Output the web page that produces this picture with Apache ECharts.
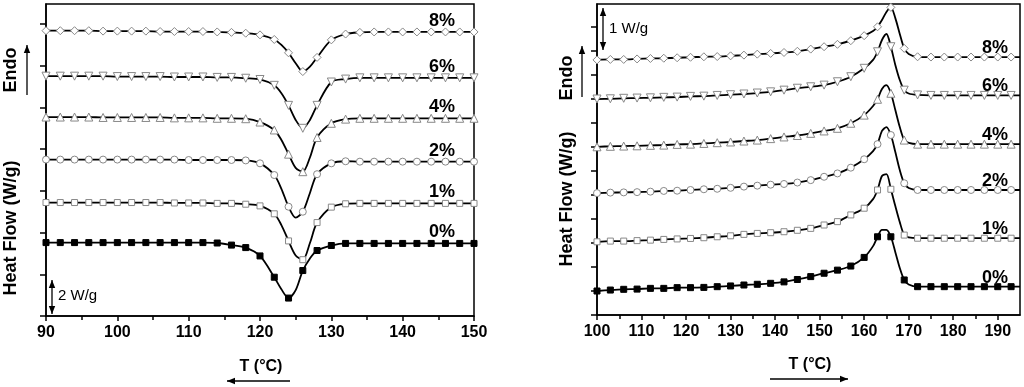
<!DOCTYPE html>
<html><head><meta charset="utf-8">
<script src="https://cdn.jsdelivr.net/npm/echarts@6/dist/echarts.min.js"></script>
<style>html,body{margin:0;padding:0;background:#fff}#c{width:1024px;height:387px}</style>
</head><body><div id="c"></div>
<script>
// ---------- DATA ----------
const seriesNames = ['0%', '1%', '2%', '4%', '6%', '8%'];

// Left panel (cooling), temperature in °C, heat flow in tick units
const leftT = [90,92,94,96,98,100,102,104,106,108,110,112,114,116,118,120,122,123,124,125,126,127,128,130,132,134,136,138,140,142,144,146,148,150];
const left0 = [1.76,1.76,1.76,1.76,1.76,1.76,1.76,1.76,1.76,1.76,1.76,1.76,1.75,1.70,1.64,1.44,0.93,0.64,0.43,0.62,1.09,1.38,1.57,1.69,1.74,1.74,1.74,1.74,1.74,1.74,1.74,1.74,1.74,1.74];
const left1 = [2.72,2.72,2.72,2.72,2.72,2.72,2.72,2.72,2.72,2.71,2.71,2.71,2.70,2.70,2.68,2.64,2.45,2.18,1.80,1.45,1.35,1.75,2.24,2.61,2.69,2.70,2.70,2.70,2.70,2.70,2.70,2.70,2.70,2.70];
const left2 = [3.75,3.75,3.75,3.75,3.75,3.75,3.75,3.75,3.75,3.75,3.74,3.74,3.74,3.74,3.73,3.66,3.38,3.05,2.62,2.36,2.50,2.95,3.40,3.66,3.71,3.70,3.70,3.70,3.70,3.70,3.70,3.70,3.70,3.70];
const left4 = [4.77,4.77,4.77,4.77,4.76,4.76,4.76,4.76,4.76,4.75,4.75,4.75,4.74,4.74,4.73,4.65,4.46,4.22,3.88,3.55,3.46,3.80,4.28,4.62,4.72,4.74,4.74,4.74,4.74,4.74,4.74,4.74,4.74,4.74];
const left6 = [5.75,5.75,5.75,5.75,5.75,5.74,5.74,5.74,5.74,5.73,5.73,5.73,5.72,5.72,5.70,5.67,5.53,5.34,5.05,4.70,4.50,4.70,5.05,5.61,5.68,5.71,5.71,5.71,5.71,5.71,5.71,5.71,5.71,5.71];
const left8 = [6.84,6.84,6.84,6.84,6.83,6.83,6.83,6.83,6.82,6.82,6.82,6.82,6.81,6.80,6.78,6.74,6.63,6.50,6.31,6.06,5.86,5.98,6.20,6.62,6.76,6.80,6.81,6.81,6.81,6.81,6.81,6.81,6.81,6.81];

// Right panel (heating)
const rightT = [100,103,106,109,112,115,118,121,124,127,130,133,136,139,142,145,148,151,154,157,160,162,163,164,165,166,167,168,169,170,172,175,178,181,184,187,190,193,195];
const right0 = [1.00,1.04,1.07,1.08,1.11,1.11,1.14,1.14,1.15,1.18,1.21,1.25,1.28,1.32,1.38,1.48,1.60,1.74,1.87,2.04,2.40,2.87,3.26,3.55,3.55,3.26,2.62,1.96,1.46,1.27,1.18,1.18,1.18,1.18,1.18,1.18,1.18,1.18,1.18];
const right1 = [3.05,3.08,3.08,3.10,3.12,3.15,3.17,3.19,3.22,3.26,3.30,3.36,3.40,3.43,3.47,3.53,3.61,3.75,3.89,4.17,4.45,4.83,5.21,5.79,5.87,5.24,4.54,3.87,3.33,3.23,3.20,3.20,3.20,3.20,3.20,3.20,3.20,3.20,3.20];
const right2 = [5.08,5.10,5.11,5.12,5.14,5.17,5.18,5.21,5.24,5.26,5.30,5.35,5.39,5.43,5.46,5.52,5.62,5.76,5.90,6.14,6.49,6.83,7.12,7.67,7.83,7.50,6.79,6.04,5.49,5.29,5.21,5.21,5.21,5.21,5.21,5.21,5.21,5.21,5.21];
const right4 = [7.01,7.03,7.04,7.05,7.07,7.08,7.11,7.12,7.15,7.18,7.21,7.25,7.29,7.35,7.42,7.48,7.57,7.67,7.78,7.99,8.33,8.71,8.99,9.42,9.58,9.24,8.54,7.83,7.29,7.17,7.12,7.12,7.12,7.12,7.12,7.12,7.12,7.12,7.12];
const right6 = [9.00,9.01,9.03,9.04,9.05,9.07,9.08,9.11,9.12,9.15,9.18,9.21,9.25,9.30,9.37,9.45,9.51,9.58,9.72,9.93,10.28,10.63,10.97,11.46,11.71,11.18,10.42,9.79,9.37,9.23,9.17,9.15,9.15,9.15,9.15,9.15,9.15,9.15,9.15];
const right8 = [10.63,10.65,10.65,10.67,10.69,10.70,10.72,10.74,10.76,10.77,10.80,10.83,10.87,10.90,10.94,10.99,11.08,11.18,11.28,11.43,11.64,11.83,12.01,12.29,12.63,12.82,12.37,11.71,11.11,10.88,10.76,10.75,10.75,10.75,10.75,10.75,10.75,10.75,10.75];

const leftValues = [left0, left1, left2, left4, left6, left8];
const rightValues = [right0, right1, right2, right4, right6, right8];

// tick labels / ranges
const leftXTicks = [90, 100, 110, 120, 130, 140, 150];
const rightXTicks = [100, 110, 120, 130, 140, 150, 160, 170, 180, 190];
const leftYTicks = [0, 1, 2, 3, 4, 5, 6, 7];
const rightYTicks = [0, 1, 2, 3, 4, 5, 6, 7, 8, 9, 10, 11, 12];
const leftMarkerStep = 2, rightMarkerStep = 3;
const leftLabelT = 145.5, rightLabelT = 189.4;

// ---------- STYLE ----------
const FONT = '"Liberation Sans", Arial, Helvetica, sans-serif';
const markerStyles = [
  {symbol: 'rect', size: 6, fill: '#000', stroke: '#000', rotate: 0},
  {symbol: 'rect', size: 6, fill: '#fff', stroke: '#888', rotate: 0},
  {symbol: 'circle', size: 7, fill: '#fff', stroke: '#888', rotate: 0},
  {symbol: 'triangle', size: 8, fill: '#fff', stroke: '#888', rotate: 0},
  {symbol: 'triangle', size: 8, fill: '#fff', stroke: '#888', rotate: 180},
  {symbol: 'diamond', size: 8, fill: '#fff', stroke: '#888', rotate: 0}
];

function pairs(T, V) { return T.map((t, i) => [t, V[i]]); }
function markerPts(T, V, start, step) {
  return pairs(T, V).filter(p => Math.abs(((p[0] - start) % step)) < 1e-9);
}

const axisLineStyle = {color: '#000', width: 1.5};
function xAxisCfg(grid, min, max, ticks) {
  return {
    gridIndex: grid, type: 'value', min: min, max: max, interval: 10,
    axisLine: {show: true, onZero: false, lineStyle: axisLineStyle},
    axisTick: {show: true, length: 5, lineStyle: axisLineStyle, customValues: ticks},
    minorTick: {show: true, splitNumber: 2, length: 4, lineStyle: axisLineStyle},
    axisLabel: {show: true, customValues: ticks, fontFamily: FONT, fontWeight: 'bold', fontSize: 16, color: '#000', margin: 9},
    splitLine: {show: false}
  };
}
function yAxisCfg(grid, max, ticks) {
  return {
    gridIndex: grid, type: 'value', min: 0, max: max, interval: 1,
    axisLine: {show: true, onZero: false, lineStyle: axisLineStyle},
    axisTick: {show: true, length: 6, lineStyle: axisLineStyle, customValues: ticks},
    axisLabel: {show: false},
    splitLine: {show: false}
  };
}

const series = [];
function addPanel(T, values, gridIdx, start, step) {
  values.forEach((V, k) => {
    series.push({
      type: 'line', xAxisIndex: gridIdx, yAxisIndex: gridIdx,
      data: pairs(T, V), smooth: 0.3, showSymbol: false, symbol: 'none',
      lineStyle: {color: '#000', width: 1.8}, z: 2, silent: true, animation: false
    });
    const m = markerStyles[k];
    series.push({
      type: 'scatter', xAxisIndex: gridIdx, yAxisIndex: gridIdx,
      data: markerPts(T, V, start, step), symbol: m.symbol, symbolSize: m.size, symbolRotate: m.rotate,
      itemStyle: {color: m.fill, borderColor: m.stroke, borderWidth: 1, opacity: 1},
      z: 3, silent: true, animation: false, clip: true
    });
  });
}
addPanel(leftT, leftValues, 0, 90, leftMarkerStep);
addPanel(rightT, rightValues, 1, 100, rightMarkerStep);

const chart = echarts.init(document.getElementById('c'), null, {renderer: 'canvas'});
chart.setOption({
  animation: false,
  backgroundColor: '#fff',
  grid: [
    {left: 46, top: 4, width: 428, height: 312, show: true, borderColor: '#000', borderWidth: 1.5, backgroundColor: 'transparent'},
    {left: 597, top: 4, width: 423, height: 311, show: true, borderColor: '#000', borderWidth: 1.5, backgroundColor: 'transparent'}
  ],
  xAxis: [xAxisCfg(0, 90, 150, leftXTicks), xAxisCfg(1, 100, 195, rightXTicks)],
  yAxis: [yAxisCfg(0, 7.48, leftYTicks), yAxisCfg(1, 12.96, rightYTicks)],
  series: series
});

// ---------- annotations ----------
function arrow(x1, y1, x2, y2, both) {
  const dx = x2 - x1, dy = y2 - y1, L = Math.hypot(dx, dy), ux = dx / L, uy = dy / L;
  const hl = 8, hw = 3.2;
  const head = (px, py, sx, sy) => ({
    type: 'polygon',
    shape: {points: [[px, py], [px - sx * hl - sy * hw, py - sy * hl + sx * hw], [px - sx * hl + sy * hw, py - sy * hl - sx * hw]]},
    style: {fill: '#000'}
  });
  const els = [{type: 'line', shape: {x1: x1, y1: y1, x2: x2, y2: y2}, style: {stroke: '#000', lineWidth: 1.3}}];
  els.push(head(x2, y2, ux, uy));
  if (both) els.push(head(x1, y1, -ux, -uy));
  return els;
}
function txt(x, y, s, size, weight, rot, align) {
  return {type: 'text', x: x, y: y, rotation: rot || 0,
    style: {text: s, fontFamily: FONT, fontSize: size, fontWeight: weight, fill: '#000', align: align || 'center', verticalAlign: 'middle'}, z: 10};
}

const g = [];
// curve labels
leftValues.forEach((V, k) => {
  const p = chart.convertToPixel({gridIndex: 0}, [leftLabelT, V[V.length - 1]]);
  g.push(txt(p[0], p[1] - 11, seriesNames[k], 18, 'bold'));
});
rightValues.forEach((V, k) => {
  const p = chart.convertToPixel({gridIndex: 1}, [rightLabelT, V[V.length - 1]]);
  g.push(txt(p[0], p[1] - 9, seriesNames[k], 18, 'bold'));
});
// axis titles
g.push(txt(11, 228, 'Heat Flow (W/g)', 18, 'bold', Math.PI / 2));
g.push(txt(11, 70, 'Endo', 18, 'bold', Math.PI / 2));
g.push(...arrow(27, 95, 27, 45, false));
g.push(txt(567, 199, 'Heat Flow (W/g)', 18, 'bold', Math.PI / 2));
g.push(txt(567, 78, 'Endo', 18, 'bold', Math.PI / 2));
g.push(...arrow(582, 97, 582, 46, false));
g.push(txt(261, 367, 'T (°C)', 16, 'bold'));
g.push(...arrow(290, 381, 227, 381, false));
g.push(txt(810, 365, 'T (°C)', 16, 'bold'));
g.push(...arrow(770, 379, 848, 379, false));
// scale bars
g.push(...arrow(52, 280, 52, 314, true));
g.push(txt(58, 296, '2 W/g', 15, 'normal', 0, 'left'));
g.push(...arrow(603, 8, 603, 50, true));
g.push(txt(609, 29, '1 W/g', 15, 'normal', 0, 'left'));

chart.setOption({graphic: g.map(e => Object.assign({silent: true}, e))});
</script></body></html>
